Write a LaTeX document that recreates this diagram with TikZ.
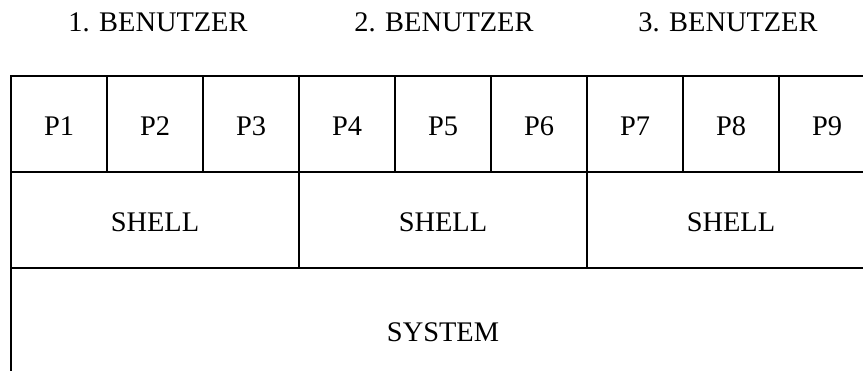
\documentclass[tikz,border=0pt]{standalone}
\usepackage{fontspec}
\setmainfont{Liberation Serif}
\begin{document}
\begin{tikzpicture}[x=1pt,y=-1pt,
  lbl/.style={font=\fontsize{28.4}{34}\selectfont, inner sep=0pt},
  cell/.style={draw, line width=1.6pt, inner sep=0pt, text height=23pt, text depth=0pt,
    font=\fontsize{28.4}{34}\selectfont},
  pcell/.style={cell, minimum width=96pt, minimum height=96pt},
  scell/.style={cell, minimum width=288pt, minimum height=96pt},
  syscell/.style={cell, minimum width=864pt, minimum height=124pt}]
\clip (0,0) rectangle (863,371);
% users
\node[lbl, anchor=base] (u1) at (158,31.7) {1. BENUTZER};
\node[lbl, anchor=base] (u2) at (444,31.7) {2. BENUTZER};
\node[lbl, anchor=base] (u3) at (728,31.7) {3. BENUTZER};
% processes
\foreach \i in {1,...,9} {
  \node[pcell] (p\i) at ({59+96*(\i-1)},124) {P\i};
}
% shells
\node[scell] (s1) at (155,220) {SHELL};
\node[scell] (s2) at (443,220) {SHELL};
\node[scell] (s3) at (731,220) {SHELL};
% system
\node[syscell] (sys) at (443,330) {SYSTEM};
\end{tikzpicture}
\end{document}
